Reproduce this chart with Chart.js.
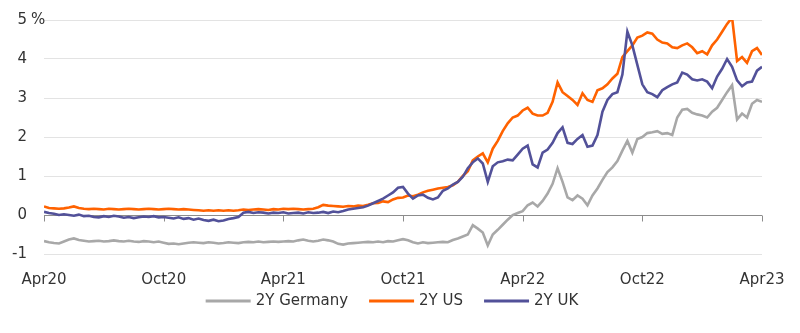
<!DOCTYPE html>
<html>
<head>
<meta charset="utf-8">
<script src="https://cdn.jsdelivr.net/npm/chart.js@4/dist/chart.umd.min.js"></script>
<style>
  html, body { margin: 0; padding: 0; background: #fff; }
  #wrap { width: 800px; height: 333px; }
</style>
</head>
<body>
<div id="wrap"><canvas id="c" width="800" height="333"></canvas></div>
<script>
// 2-year government bond yields (%), weekly observations from April 2020 to April 2023
const STEP_MONTHS = 0.25;
const tickLabels = ['Apr20', 'Oct20', 'Apr21', 'Oct21', 'Apr22', 'Oct22', 'Apr23'];
const seriesNames = ['2Y Germany', '2Y US', '2Y UK'];

const germany2y = [
  -0.67,-0.70,-0.72,-0.73,-0.68,-0.63,-0.60,-0.64,-0.66,-0.68,-0.67,-0.66,-0.68,-0.67,-0.65,-0.67,
  -0.68,-0.66,-0.68,-0.69,-0.67,-0.68,-0.70,-0.68,-0.71,-0.74,-0.73,-0.75,-0.73,-0.71,-0.70,-0.71,
  -0.72,-0.70,-0.71,-0.73,-0.72,-0.70,-0.71,-0.72,-0.70,-0.69,-0.70,-0.68,-0.70,-0.69,-0.68,-0.69,
  -0.68,-0.67,-0.68,-0.65,-0.63,-0.66,-0.68,-0.66,-0.63,-0.65,-0.68,-0.74,-0.76,-0.73,-0.72,-0.71,
  -0.70,-0.69,-0.70,-0.68,-0.70,-0.67,-0.68,-0.65,-0.62,-0.65,-0.70,-0.73,-0.70,-0.72,-0.71,-0.70,
  -0.69,-0.70,-0.64,-0.60,-0.55,-0.50,-0.26,-0.35,-0.45,-0.78,-0.50,-0.38,-0.25,-0.12, 0.00, 0.05,
   0.10, 0.25, 0.32, 0.22, 0.36, 0.55, 0.80, 1.20, 0.85, 0.45, 0.38, 0.50, 0.42, 0.25, 0.50, 0.68,
   0.90, 1.10, 1.22, 1.38, 1.65, 1.90, 1.60, 1.95, 2.00, 2.10, 2.12, 2.15, 2.08, 2.10, 2.05, 2.50,
   2.70, 2.72, 2.62, 2.58, 2.55, 2.50, 2.65, 2.75, 2.95, 3.15, 3.33, 2.45, 2.60, 2.50, 2.85, 2.95,
   2.90
];

const us2y = [
   0.22, 0.18, 0.17, 0.16, 0.17, 0.19, 0.22, 0.18, 0.16, 0.15, 0.16, 0.15, 0.14, 0.16, 0.15, 0.14,
   0.15, 0.16, 0.15, 0.14, 0.15, 0.16, 0.15, 0.14, 0.15, 0.16, 0.15, 0.14, 0.15, 0.14, 0.13, 0.12,
   0.11, 0.12, 0.11, 0.12, 0.11, 0.12, 0.11, 0.12, 0.14, 0.13, 0.14, 0.15, 0.14, 0.13, 0.15, 0.14,
   0.16, 0.15, 0.16, 0.15, 0.14, 0.15, 0.16, 0.20, 0.26, 0.24, 0.23, 0.22, 0.21, 0.23, 0.22, 0.24,
   0.23, 0.26, 0.30, 0.31, 0.35, 0.33, 0.40, 0.44, 0.45, 0.50, 0.48, 0.52, 0.58, 0.62, 0.65, 0.68,
   0.70, 0.72, 0.76, 0.85, 1.00, 1.12, 1.40, 1.50, 1.58, 1.35, 1.70, 1.90, 2.15, 2.35, 2.50, 2.55,
   2.68, 2.75, 2.60, 2.55, 2.55, 2.62, 2.90, 3.40, 3.15, 3.05, 2.95, 2.82, 3.12, 2.95, 2.90, 3.20,
   3.25, 3.35, 3.50, 3.62, 4.05, 4.20, 4.35, 4.55, 4.60, 4.68, 4.65, 4.50, 4.42, 4.40, 4.30, 4.28,
   4.35, 4.40, 4.30, 4.15, 4.20, 4.12, 4.35, 4.50, 4.70, 4.90, 5.06, 3.95, 4.05, 3.90, 4.20, 4.28,
   4.10
];

const uk2y = [
   0.08, 0.05, 0.03, 0.00, 0.02, 0.00,-0.02, 0.01,-0.03,-0.02,-0.05,-0.06,-0.03,-0.05,-0.02,-0.04,
  -0.07,-0.05,-0.08,-0.06,-0.04,-0.05,-0.03,-0.06,-0.05,-0.07,-0.09,-0.06,-0.10,-0.08,-0.12,-0.09,
  -0.13,-0.15,-0.12,-0.16,-0.14,-0.10,-0.08,-0.05, 0.06, 0.08, 0.05, 0.07, 0.06, 0.04, 0.06, 0.05,
   0.07, 0.04, 0.05, 0.06, 0.04, 0.07, 0.05, 0.06, 0.08, 0.05, 0.09, 0.07, 0.10, 0.14, 0.16, 0.18,
   0.20, 0.24, 0.30, 0.36, 0.42, 0.50, 0.58, 0.70, 0.72, 0.55, 0.42, 0.50, 0.52, 0.44, 0.40, 0.45,
   0.62, 0.68, 0.78, 0.85, 0.98, 1.20, 1.35, 1.45, 1.32, 0.85, 1.25, 1.35, 1.38, 1.42, 1.40, 1.55,
   1.70, 1.78, 1.30, 1.22, 1.60, 1.68, 1.85, 2.10, 2.25, 1.85, 1.82, 1.95, 2.05, 1.75, 1.78, 2.05,
   2.65, 2.95, 3.10, 3.15, 3.60, 4.70, 4.35, 3.85, 3.35, 3.15, 3.10, 3.02, 3.20, 3.28, 3.35, 3.40,
   3.65, 3.60, 3.48, 3.45, 3.48, 3.42, 3.25, 3.55, 3.75, 4.00, 3.80, 3.45, 3.30, 3.40, 3.42, 3.70,
   3.80
];

const colors = ['#a8a8a8', '#ff6200', '#525199'];
const TEXT = '#333333';
const FONT = 'DejaVu Sans';
const FONT_SIZE = 15;

const toPoints = arr => arr.map((v, i) => ({ x: i * STEP_MONTHS, y: v }));

// zero axis line with tick marks (the date axis crosses the value axis at 0)
const zeroAxisTicks = {
  id: 'zeroAxisTicks',
  beforeDatasetsDraw(chart) {
    const { ctx, scales: { x, y } } = chart;
    const y0 = Math.round(y.getPixelForValue(0)) + 0.5;
    ctx.save();
    ctx.strokeStyle = '#8c8c8c';
    ctx.lineWidth = 1;
    ctx.beginPath();
    ctx.moveTo(x.left, y0);
    ctx.lineTo(x.right, y0);
    x.ticks.forEach(t => {
      const px = Math.round(x.getPixelForValue(t.value)) + 0.5;
      ctx.moveTo(px, y0);
      ctx.lineTo(px, y0 + 6);
    });
    ctx.stroke();
    ctx.restore();
  }
};

// unit marker next to the top value-axis label
const unitLabel = {
  id: 'unitLabel',
  afterDraw(chart) {
    const { ctx, scales: { y } } = chart;
    ctx.save();
    ctx.font = FONT_SIZE + 'px "' + FONT + '"';
    ctx.fillStyle = TEXT;
    ctx.textAlign = 'left';
    ctx.textBaseline = 'middle';
    ctx.fillText('%', 31, y.getPixelForValue(5));
    ctx.restore();
  }
};

// legend row under the axis: short line sample followed by the series name
const lineLegend = {
  id: 'lineLegend',
  afterDraw(chart) {
    const { ctx } = chart;
    const sample = 45, gapText = 5, gapItem = 21, cy = 301, cx = 392;
    ctx.save();
    ctx.font = FONT_SIZE + 'px "' + FONT + '"';
    const items = chart.data.datasets.map(ds => ({
      label: ds.label, color: ds.borderColor, w: ctx.measureText(ds.label).width
    }));
    const total = items.reduce((s, it) => s + sample + gapText + it.w, 0) + gapItem * (items.length - 1);
    let x = cx - total / 2;
    items.forEach(it => {
      ctx.strokeStyle = it.color;
      ctx.lineWidth = 3;
      ctx.beginPath();
      ctx.moveTo(x, cy);
      ctx.lineTo(x + sample, cy);
      ctx.stroke();
      ctx.fillStyle = TEXT;
      ctx.textAlign = 'left';
      ctx.textBaseline = 'middle';
      ctx.fillText(it.label, x + sample + gapText, cy);
      x += sample + gapText + it.w + gapItem;
    });
    ctx.restore();
  }
};

new Chart(document.getElementById('c'), {
  type: 'line',
  data: {
    datasets: [germany2y, us2y, uk2y].map((arr, k) => ({
      label: seriesNames[k],
      data: toPoints(arr),
      borderColor: colors[k],
      backgroundColor: colors[k],
      borderWidth: 2.6,
      pointRadius: 0,
      tension: 0,
      order: 2 - k
    }))
  },
  options: {
    responsive: false,
    animation: false,
    layout: { padding: { top: 0, right: 38, left: 0, bottom: 0 } },
    plugins: {
      tooltip: { enabled: false },
      legend: { display: false }
    },
    scales: {
      x: {
        type: 'linear',
        min: 0,
        max: 36,
        grid: { display: false },
        border: { display: false },
        ticks: {
          stepSize: 6,
          autoSkip: false,
          maxRotation: 0,
          padding: 9,
          color: TEXT,
          font: { family: FONT, size: FONT_SIZE },
          callback: v => tickLabels[v / 6]
        },
        afterFit: s => { s.height = 79; s.paddingLeft = 0; s.paddingRight = 0; }
      },
      y: {
        min: -1,
        max: 5,
        grid: {
          color: ctx => ctx.tick && ctx.tick.value === 0 ? 'rgba(0,0,0,0)' : '#e3e3e3',
          lineWidth: 1,
          drawTicks: false
        },
        border: { display: false },
        ticks: {
          stepSize: 1,
          padding: 17,
          color: TEXT,
          font: { family: FONT, size: FONT_SIZE }
        },
        afterFit: s => { s.width = 44; s.paddingTop = 20; s.paddingBottom = 0; }
      }
    }
  },
  plugins: [zeroAxisTicks, unitLabel, lineLegend]
});
</script>
</body>
</html>
